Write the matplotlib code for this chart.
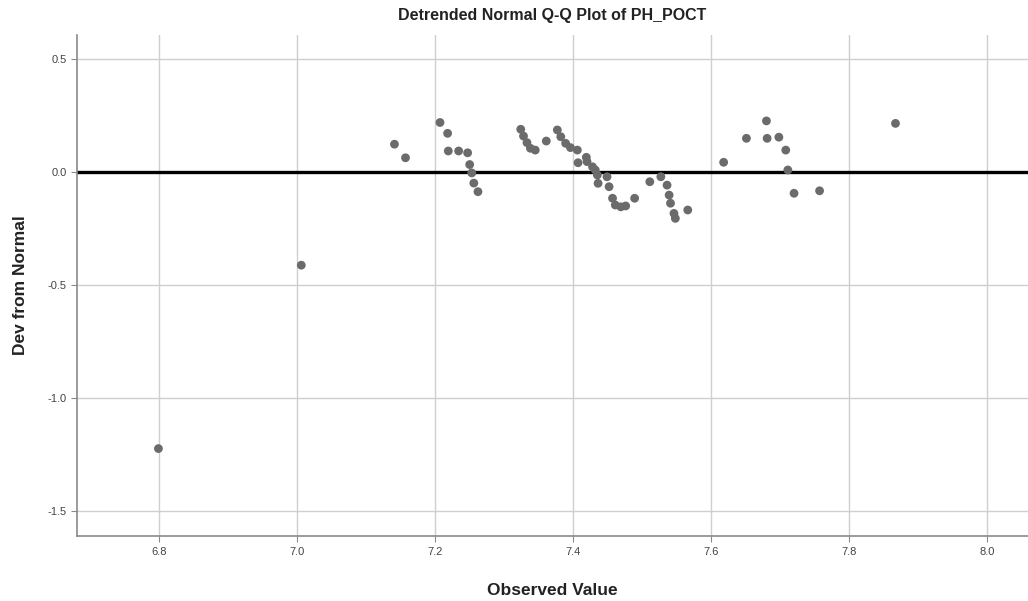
import numpy as np
import matplotlib.pyplot as plt

observed = [6.799, 7.006, 7.141, 7.157, 7.207, 7.218, 7.219, 7.234, 7.247, 7.250,
            7.253, 7.256, 7.262, 7.324, 7.328, 7.333, 7.338, 7.345, 7.361, 7.377,
            7.382, 7.389, 7.396, 7.406, 7.407, 7.419, 7.420, 7.428, 7.432, 7.435,
            7.436, 7.449, 7.452, 7.457, 7.461, 7.469, 7.476, 7.489, 7.511, 7.527,
            7.536, 7.539, 7.541, 7.546, 7.548, 7.566, 7.618, 7.651, 7.680, 7.681,
            7.698, 7.708, 7.711, 7.720, 7.757, 7.867]
dev_normal = [-1.223, -0.412, 0.123, 0.063, 0.219, 0.171, 0.093, 0.093, 0.085, 0.033,
              -0.004, -0.049, -0.087, 0.189, 0.159, 0.130, 0.105, 0.097, 0.137, 0.186,
              0.156, 0.127, 0.108, 0.097, 0.041, 0.065, 0.046, 0.023, 0.009, -0.013,
              -0.050, -0.021, -0.065, -0.116, -0.146, -0.154, -0.150, -0.116, -0.043, -0.021,
              -0.058, -0.102, -0.138, -0.183, -0.205, -0.168, 0.043, 0.149, 0.226, 0.149,
              0.154, 0.097, 0.009, -0.094, -0.083, 0.215]

x_ticks = [6.8, 7.0, 7.2, 7.4, 7.6, 7.8, 8.0]
y_ticks = [0.5, 0.0, -0.5, -1.0, -1.5]

plt.rcParams['font.family'] = ['Liberation Sans', 'DejaVu Sans']

fig = plt.figure(figsize=(10.28, 6.01), dpi=100)
ax = fig.add_axes([0.0749, 0.108, 0.9251, 0.8338])

ax.set_xlim(6.681, 8.059)
ax.set_ylim(-1.61, 0.606)
ax.set_xticks(x_ticks)
ax.set_yticks(y_ticks)
ax.set_xticklabels([f'{v:.1f}' for v in x_ticks])
ax.set_yticklabels([f'{v:.1f}' for v in y_ticks])
ax.grid(True, color='#cfcfcf', linewidth=1.0)
ax.set_axisbelow(True)

# ligne de référence (écart nul)
ax.axhline(0, color='black', linewidth=2.4, zorder=2)
ax.scatter(observed, dev_normal, s=40, color='#6b6b6b', edgecolors='none', zorder=3)

for side in ('top', 'right'):
    ax.spines[side].set_visible(False)
for side in ('left', 'bottom'):
    ax.spines[side].set_color('#8a8a8a')
    ax.spines[side].set_linewidth(1.2)
ax.tick_params(axis='both', labelsize=8, colors='#8a8a8a', labelcolor='#444444', length=4)

ax.set_title('Detrended Normal Q-Q Plot of PH_POCT', fontsize=11.5, fontweight='bold',
             color='#222222', pad=11)
ax.set_xlabel('Observed Value', fontsize=12.5, fontweight='bold', color='#222222', labelpad=19)
ax.set_ylabel('Dev from Normal', fontsize=12.5, fontweight='bold', color='#222222', labelpad=14)

fig.savefig('out.png', dpi=100)
